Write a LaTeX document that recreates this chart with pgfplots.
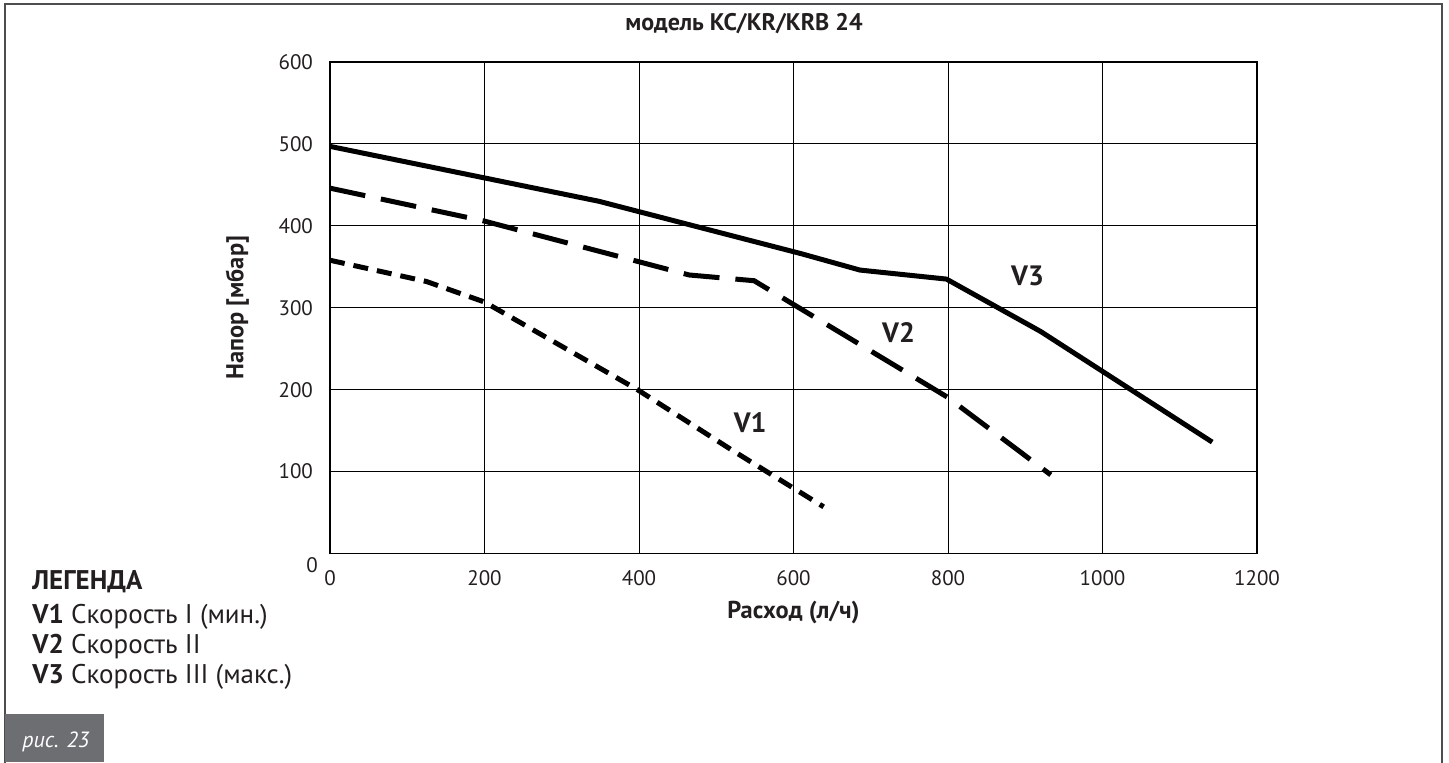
\documentclass[border=0pt]{standalone}
\usepackage{pgfplots}
\pgfplotsset{compat=1.18}
\usepackage{fontspec}
\setmainfont{PT Sans}
\definecolor{txt}{HTML}{231F20}
\definecolor{boxgray}{HTML}{6D6E71}
\definecolor{framegray}{HTML}{4D4D4F}

\begin{document}
\begin{tikzpicture}
\path[use as bounding box] (0,0) rectangle (724.5pt,381pt);
% outer frame
\draw[framegray, line width=0.75pt] (2.5pt,-1pt) -- (2.5pt,379pt) -- (721pt,379pt) -- (721pt,-1pt);
% figure tag
\fill[boxgray] (2.5pt,0pt) rectangle (52pt,24pt);
\node[white, font=\itshape\fontsize{11}{13}\selectfont, anchor=base west, inner sep=0pt] at (11pt,7.5pt) {рис. 23};
% legend
\begin{scope}[every node/.style={anchor=base west, inner sep=0pt, text=txt, font=\fontsize{13.5}{15}\selectfont}]
\node at (16pt,86.3pt) {\bfseries ЛЕГЕНДА};
\node at (16pt,69.5pt) {\textbf{V1} Скорость I (мин.)};
\node at (16pt,54.3pt) {\textbf{V2} Скорость II};
\node at (16pt,39.3pt) {\textbf{V3} Скорость III (макс.)};
\end{scope}
% title
\node[text=txt, font=\bfseries\fontsize{12}{14}\selectfont] at (372pt,369pt) {модель KC/KR/KRB 24};

\begin{axis}[
  at={(165pt,104.25pt)}, anchor=south west,
  scale only axis, width=463.5pt, height=245.75pt,
  xmin=0, xmax=1200, ymin=0, ymax=600,
  xtick={0,200,...,1200}, ytick={0,100,...,600},
  yticklabels={,100,200,300,400,500,600},
  grid=major, grid style={black, line width=0.5pt},
  axis line style={black, line width=0.6pt},
  major tick length=0pt,
  tick label style={font=\fontsize{10.5}{12}\selectfont, text=txt},
  /pgf/number format/assume math mode=true,
  /pgf/number format/set thousands separator={},
  xticklabel style={yshift=-5pt},
  yticklabel style={xshift=-5pt},
  xlabel={Расход (л/ч)},
  ylabel={Напор [мбар]},
  label style={font=\bfseries\fontsize{12.2}{14}\selectfont, text=txt},
  xlabel style={at={(axis description cs:0.5,-0.12)}, anchor=center},
  ylabel style={at={(axis description cs:-0.1,0.5)}, anchor=center},
  clip=false,
]
% V3 solid
\addplot[black, line width=2.5pt, line join=round] coordinates {
  (0,497) (348,430) (610,366) (686,346) (798,335) (920,271) (1142,136)
};
% V2 long dashes
\addplot[black, line width=2.5pt, dash pattern=on 18pt off 8pt] coordinates {
  (0,446) (199,406) (465,340) (549,333) (799,191) (933,96)
};
% V1 short dashes
\addplot[black, line width=2.5pt, dash pattern=on 7.5pt off 4.5pt] coordinates {
  (0,358) (125,332) (200,307) (398,200) (519,127) (639,57)
};
\node[text=txt, font=\bfseries\fontsize{14}{16}\selectfont] at (axis cs:544,160) {V1};
\node[text=txt, font=\bfseries\fontsize{14}{16}\selectfont] at (axis cs:736,270) {V2};
\node[text=txt, font=\bfseries\fontsize{14}{16}\selectfont] at (axis cs:903,339) {V3};
\node[text=txt, font=\fontsize{10.5}{12}\selectfont, xshift=-9pt, yshift=-5.75pt] at (axis cs:0,0) {0};
\end{axis}
\end{tikzpicture}
\end{document}
